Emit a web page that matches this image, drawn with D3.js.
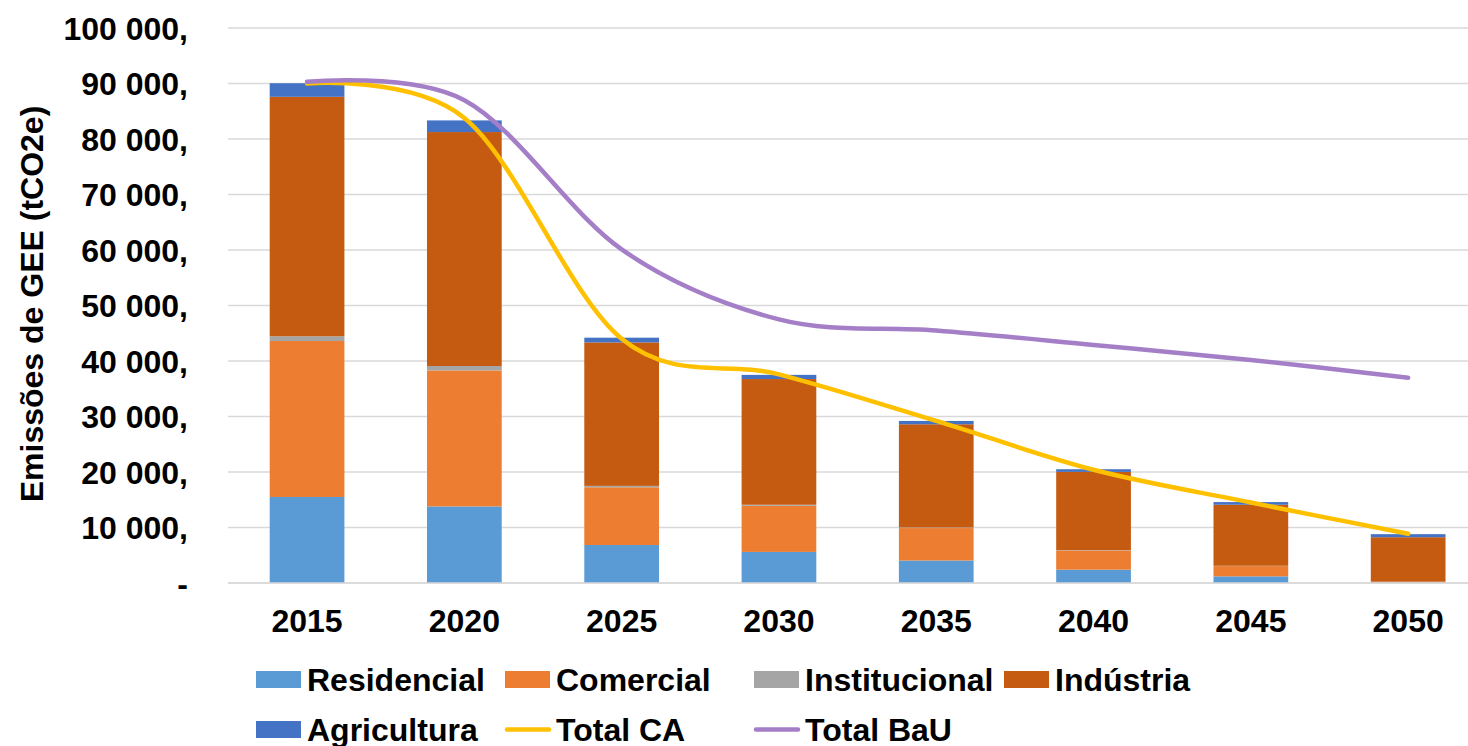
<!DOCTYPE html>
<html>
<head>
<meta charset="utf-8">
<script src="https://cdn.jsdelivr.net/npm/d3@7/dist/d3.min.js"></script>
<style>
  html, body { margin: 0; padding: 0; background: #ffffff; }
  svg { display: block; }
  text { font-family: "Liberation Sans", Arial, sans-serif; font-weight: bold; fill: #000; }
</style>
</head>
<body>
<svg id="chart" width="1468" height="746"></svg>
<script>
// Emissions by sector (tCO2e) per year
const years = ["2015", "2020", "2025", "2030", "2035", "2040", "2045", "2050"];
const residencial   = [15500, 13800, 6850, 5600, 4050, 2400, 1200, 100];
const comercial     = [28100, 24500, 10400, 8300, 5850, 3450, 1850, 120];
const institucional = [850, 800, 250, 200, 100, 70, 50, 20];
const industria     = [43150, 42150, 25850, 22650, 18600, 14100, 11000, 8010];
const agricultura   = [2450, 2100, 850, 750, 600, 480, 480, 550];
const totalCA  = [90000, 83800, 44000, 37600, 29200, 20400, 14500, 8880];
const totalBaU = [90300, 87000, 60100, 47500, 45500, 42900, 40200, 37000];
const yTicks = [0, 10000, 20000, 30000, 40000, 50000, 60000, 70000, 80000, 90000, 100000];

const sectorNames  = ["Residencial", "Comercial", "Institucional", "Indústria", "Agricultura"];
const sectorValues = [residencial, comercial, institucional, industria, agricultura];
const sectorColors = ["#5B9BD5", "#ED7D31", "#A5A5A5", "#C55A11", "#4472C4"];
const colorCA = "#FFC000";
const colorBaU = "#A47FC8";

const svg = d3.select("#chart");

const x = d3.scaleBand()
  .domain(years)
  .range([228.4, 1486.8])
  .paddingInner(0.525)
  .paddingOuter(0.2625);

const y = d3.scaleLinear().domain([0, 100000]).range([583, 28]);

// Horizontal gridlines
svg.append("g")
  .selectAll("line")
  .data(yTicks)
  .join("line")
  .attr("x1", 228)
  .attr("x2", 1468)
  .attr("y1", d => y(d))
  .attr("y2", d => y(d))
  .attr("stroke", "#d9d9d9")
  .attr("stroke-width", 1.6);

// Y axis labels
const fmt = d => d === 0 ? "-" : d3.format(",")(d).replace(/,/g, " ") + ",";
svg.append("g")
  .selectAll("text")
  .data(yTicks)
  .join("text")
  .attr("x", 188)
  .attr("y", d => y(d))
  .attr("dy", "0.36em")
  .attr("text-anchor", "end")
  .style("font-size", "32px")
  .text(fmt);

// Y axis title
svg.append("text")
  .attr("transform", "translate(43,304) rotate(-90)")
  .attr("text-anchor", "middle")
  .style("font-size", "32px")
  .text("Emissões de GEE (tCO2e)");

// Stacked bars
const rows = years.map((yr, i) => {
  const r = { year: yr };
  sectorNames.forEach((n, k) => { r[n] = sectorValues[k][i]; });
  return r;
});
const stacked = d3.stack().keys(sectorNames)(rows);

svg.append("g")
  .selectAll("g")
  .data(stacked)
  .join("g")
  .attr("fill", (d, k) => sectorColors[k])
  .selectAll("rect")
  .data(d => d)
  .join("rect")
  .attr("x", d => x(d.data.year))
  .attr("width", x.bandwidth())
  .attr("y", d => y(d[1]))
  .attr("height", d => Math.max(0, y(d[0]) - y(d[1])));

// X axis line and labels
svg.append("line")
  .attr("x1", 228).attr("x2", 1468)
  .attr("y1", y(0)).attr("y2", y(0))
  .attr("stroke", "#d9d9d9").attr("stroke-width", 1.6);

svg.append("g")
  .selectAll("text")
  .data(years)
  .join("text")
  .attr("x", d => x(d) + x.bandwidth() / 2)
  .attr("y", 632)
  .attr("text-anchor", "middle")
  .style("font-size", "32px")
  .text(d => d);

// Total lines
const line = d3.line()
  .x((d, i) => x(years[i]) + x.bandwidth() / 2)
  .y(d => y(d))
  .curve(d3.curveCatmullRom.alpha(0));

svg.append("path")
  .datum(totalCA)
  .attr("d", line)
  .attr("fill", "none")
  .attr("stroke", colorCA)
  .attr("stroke-width", 4.5)
  .attr("stroke-linecap", "round")
  .attr("stroke-linejoin", "round");

svg.append("path")
  .datum(totalBaU)
  .attr("d", line)
  .attr("fill", "none")
  .attr("stroke", colorBaU)
  .attr("stroke-width", 4.5)
  .attr("stroke-linecap", "round")
  .attr("stroke-linejoin", "round");

// Legend
const legendItems = [
  { name: "Residencial",   type: "rect", color: sectorColors[0], col: 0, row: 0 },
  { name: "Comercial",     type: "rect", color: sectorColors[1], col: 1, row: 0 },
  { name: "Institucional", type: "rect", color: sectorColors[2], col: 2, row: 0 },
  { name: "Indústria",     type: "rect", color: sectorColors[3], col: 3, row: 0 },
  { name: "Agricultura",   type: "rect", color: sectorColors[4], col: 0, row: 1 },
  { name: "Total CA",      type: "line", color: colorCA,         col: 1, row: 1 },
  { name: "Total BaU",     type: "line", color: colorBaU,        col: 2, row: 1 }
];
const legendX = [256, 505, 754, 1004];
const legendY = [679.5, 729.5];

const lg = svg.append("g")
  .selectAll("g")
  .data(legendItems)
  .join("g")
  .attr("transform", d => `translate(${legendX[d.col]},${legendY[d.row]})`);

lg.filter(d => d.type === "rect")
  .append("rect")
  .attr("x", 0).attr("y", -8.5)
  .attr("width", 45).attr("height", 17)
  .attr("fill", d => d.color);

lg.filter(d => d.type === "line")
  .append("line")
  .attr("x1", 2).attr("x2", 44)
  .attr("y1", 0).attr("y2", 0)
  .attr("stroke", d => d.color)
  .attr("stroke-width", 4.5)
  .attr("stroke-linecap", "round");

lg.append("text")
  .attr("x", 51)
  .attr("y", 11)
  .style("font-size", "32px")
  .text(d => d.name);
</script>
</body>
</html>
